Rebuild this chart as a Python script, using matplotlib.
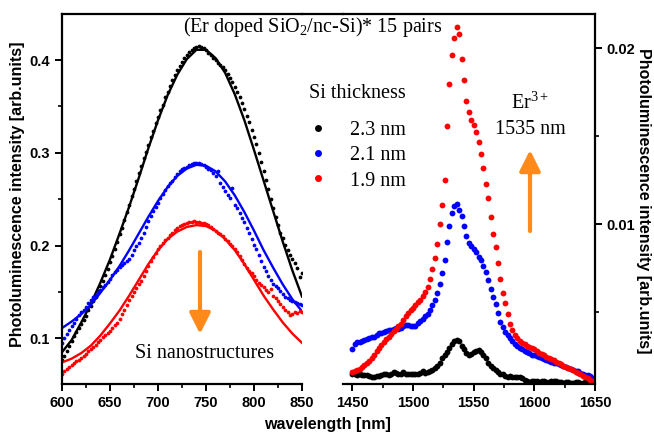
import numpy as np
import matplotlib
matplotlib.use("Agg")
import matplotlib.pyplot as plt
from matplotlib.lines import Line2D
from matplotlib.ticker import MultipleLocator, FuncFormatter
from matplotlib.patches import FancyArrowPatch

# ---------------- data: visible range (Si nanostructures), 2.5 nm steps ----------------
wl_vis = [600 + 2.5 * i for i in range(101)]
vis_23 = [0.077, 0.081, 0.086, 0.092, 0.097, 0.102, 0.107, 0.111, 0.115, 0.120, 0.124, 0.130,
          0.135, 0.140, 0.145, 0.151, 0.156, 0.162, 0.168, 0.175, 0.182, 0.189, 0.196, 0.204,
          0.212, 0.219, 0.227, 0.236, 0.244, 0.253, 0.261, 0.270, 0.278, 0.286, 0.294, 0.301,
          0.308, 0.317, 0.324, 0.332, 0.339, 0.346, 0.352, 0.360, 0.366, 0.372, 0.378, 0.384,
          0.389, 0.394, 0.398, 0.402, 0.405, 0.409, 0.411, 0.413, 0.414, 0.415, 0.414, 0.413,
          0.411, 0.408, 0.405, 0.402, 0.400, 0.397, 0.395, 0.392, 0.389, 0.385, 0.381, 0.376,
          0.371, 0.366, 0.360, 0.354, 0.347, 0.340, 0.333, 0.325, 0.317, 0.309, 0.300, 0.290,
          0.280, 0.271, 0.261, 0.250, 0.240, 0.231, 0.222, 0.214, 0.208, 0.201, 0.195, 0.190,
          0.185, 0.181, 0.176, 0.166, 0.170]
vis_21 = [0.095, 0.100, 0.105, 0.109, 0.113, 0.117, 0.121, 0.125, 0.128, 0.131, 0.134, 0.138,
          0.141, 0.144, 0.147, 0.150, 0.152, 0.155, 0.157, 0.161, 0.164, 0.168, 0.171, 0.174,
          0.177, 0.179, 0.181, 0.183, 0.186, 0.190, 0.195, 0.199, 0.203, 0.208, 0.213, 0.220,
          0.226, 0.232, 0.237, 0.242, 0.246, 0.251, 0.256, 0.260, 0.264, 0.267, 0.270, 0.274,
          0.277, 0.280, 0.282, 0.284, 0.285, 0.287, 0.288, 0.289, 0.289, 0.289, 0.288, 0.287,
          0.285, 0.283, 0.281, 0.278, 0.275, 0.280, 0.267, 0.263, 0.259, 0.255, 0.251, 0.262,
          0.244, 0.240, 0.235, 0.230, 0.225, 0.219, 0.213, 0.207, 0.201, 0.196, 0.190, 0.183,
          0.177, 0.172, 0.167, 0.163, 0.159, 0.156, 0.154, 0.151, 0.148, 0.145, 0.143, 0.141,
          0.140, 0.139, 0.138, 0.137, 0.136]
vis_19 = [0.062, 0.065, 0.067, 0.069, 0.071, 0.073, 0.075, 0.077, 0.079, 0.081, 0.083, 0.086,
          0.088, 0.091, 0.093, 0.096, 0.098, 0.101, 0.103, 0.106, 0.108, 0.111, 0.114, 0.117,
          0.121, 0.126, 0.131, 0.136, 0.141, 0.146, 0.150, 0.154, 0.158, 0.162, 0.167, 0.173,
          0.178, 0.183, 0.188, 0.192, 0.196, 0.200, 0.203, 0.206, 0.208, 0.211, 0.214, 0.217,
          0.219, 0.221, 0.222, 0.223, 0.224, 0.225, 0.225, 0.226, 0.225, 0.225, 0.224, 0.224,
          0.223, 0.222, 0.220, 0.218, 0.216, 0.214, 0.212, 0.210, 0.207, 0.205, 0.202, 0.199,
          0.196, 0.193, 0.189, 0.184, 0.180, 0.176, 0.173, 0.170, 0.167, 0.163, 0.160, 0.157,
          0.155, 0.152, 0.150, 0.153, 0.146, 0.143, 0.140, 0.137, 0.134, 0.130, 0.128, 0.125,
          0.126, 0.128, 0.127, 0.129, 0.128]

# fitted curves
wl_fit = [600, 610, 620, 630, 640, 650, 660, 670, 680, 690, 700, 710, 720, 730, 740, 750,
          760, 770, 780, 790, 800, 810, 820, 830, 840, 850]
fit_23 = [0.085, 0.098, 0.117, 0.137, 0.160, 0.185, 0.213, 0.242, 0.273, 0.305, 0.335, 0.362,
          0.384, 0.401, 0.411, 0.411, 0.402, 0.386, 0.363, 0.335, 0.303, 0.270, 0.237, 0.204,
          0.173, 0.145]
fit_21 = [0.111, 0.118, 0.126, 0.136, 0.149, 0.163, 0.178, 0.195, 0.213, 0.231, 0.248, 0.263,
          0.275, 0.283, 0.287, 0.286, 0.280, 0.269, 0.254, 0.236, 0.216, 0.195, 0.176, 0.158,
          0.142, 0.129]
fit_19 = [0.074, 0.078, 0.084, 0.092, 0.103, 0.116, 0.130, 0.146, 0.163, 0.180, 0.195, 0.207,
          0.215, 0.220, 0.222, 0.221, 0.216, 0.207, 0.195, 0.180, 0.163, 0.146, 0.131, 0.117,
          0.105, 0.095]

# ---------------- data: Er3+ range, 2 nm steps ----------------
wl_ir = list(range(1450, 1651, 2))
ir_23 = [0.00150, 0.00148, 0.00145, 0.00148, 0.00145, 0.00143, 0.00142, 0.00140, 0.00135, 0.00132,
         0.00138, 0.00140, 0.00145, 0.00152, 0.00148, 0.00142, 0.00150, 0.00160, 0.00155, 0.00148,
         0.00152, 0.00160, 0.00150, 0.00148, 0.00150, 0.00152, 0.00150, 0.00152, 0.00158, 0.00165,
         0.00158, 0.00160, 0.00168, 0.00175, 0.00182, 0.00195, 0.00215, 0.00238, 0.00258, 0.00275,
         0.00298, 0.00322, 0.00338, 0.00343, 0.00335, 0.00310, 0.00290, 0.00270, 0.00258, 0.00262,
         0.00272, 0.00280, 0.00285, 0.00275, 0.00258, 0.00238, 0.00215, 0.00198, 0.00185, 0.00172,
         0.00160, 0.00152, 0.00148, 0.00140, 0.00135, 0.00138, 0.00132, 0.00130, 0.00135, 0.00132,
         0.00125, 0.00115, 0.00108, 0.00105, 0.00108, 0.00110, 0.00108, 0.00105, 0.00108, 0.00110,
         0.00105, 0.00102, 0.00108, 0.00112, 0.00108, 0.00105, 0.00102, 0.00100, 0.00102, 0.00105,
         0.00100, 0.00098, 0.00102, 0.00105, 0.00100, 0.00098, 0.00102, 0.00100, 0.00098, 0.00097,
         0.00096]
ir_21 = [0.00290, 0.00320, 0.00333, 0.00330, 0.00340, 0.00345, 0.00348, 0.00352, 0.00358, 0.00362,
         0.00372, 0.00380, 0.00385, 0.00390, 0.00395, 0.00400, 0.00398, 0.00405, 0.00412, 0.00408,
         0.00412, 0.00420, 0.00428, 0.00430, 0.00425, 0.00422, 0.00425, 0.00438, 0.00450, 0.00462,
         0.00478, 0.00490, 0.00515, 0.00540, 0.00570, 0.00610, 0.00660, 0.00725, 0.00800, 0.00900,
         0.00990, 0.01065, 0.01105, 0.01115, 0.01080, 0.01045, 0.00990, 0.00935, 0.00895, 0.00875,
         0.00862, 0.00845, 0.00815, 0.00795, 0.00765, 0.00728, 0.00685, 0.00635, 0.00590, 0.00545,
         0.00495, 0.00448, 0.00415, 0.00390, 0.00372, 0.00355, 0.00338, 0.00322, 0.00310, 0.00300,
         0.00290, 0.00282, 0.00275, 0.00268, 0.00260, 0.00255, 0.00250, 0.00245, 0.00240, 0.00235,
         0.00230, 0.00225, 0.00220, 0.00215, 0.00210, 0.00205, 0.00200, 0.00196, 0.00190, 0.00183,
         0.00178, 0.00172, 0.00168, 0.00165, 0.00158, 0.00150, 0.00145, 0.00142, 0.00138, 0.00128,
         0.00118]
ir_19 = [0.00160, 0.00165, 0.00172, 0.00180, 0.00192, 0.00203, 0.00215, 0.00226, 0.00240, 0.00260,
         0.00280, 0.00300, 0.00315, 0.00332, 0.00350, 0.00362, 0.00378, 0.00392, 0.00405, 0.00420,
         0.00435, 0.00455, 0.00478, 0.00495, 0.00512, 0.00525, 0.00543, 0.00560, 0.00572, 0.00592,
         0.00615, 0.00645, 0.00690, 0.00745, 0.00810, 0.00890, 0.01000, 0.01110, 0.01250, 0.01560,
         0.01800, 0.01960, 0.02060, 0.02120, 0.02080, 0.01940, 0.01820, 0.01700, 0.01640, 0.01595,
         0.01565, 0.01525, 0.01470, 0.01400, 0.01318, 0.01228, 0.01150, 0.01040, 0.00945, 0.00870,
         0.00780, 0.00690, 0.00610, 0.00555, 0.00490, 0.00435, 0.00400, 0.00372, 0.00355, 0.00340,
         0.00328, 0.00318, 0.00310, 0.00303, 0.00297, 0.00290, 0.00280, 0.00270, 0.00262, 0.00255,
         0.00245, 0.00240, 0.00233, 0.00228, 0.00220, 0.00212, 0.00205, 0.00198, 0.00192, 0.00185,
         0.00177, 0.00170, 0.00163, 0.00157, 0.00150, 0.00140, 0.00132, 0.00125, 0.00117, 0.00108,
         0.00100]

labels = ["2.3 nm", "2.1 nm", "1.9 nm"]
colors = ["#000000", "#0000ff", "#ff0000"]
orange = "#ff8a1a"

# ---------------- figure ----------------
plt.rcParams['font.family'] = ['Liberation Sans', 'DejaVu Sans']
plt.rcParams['mathtext.fontset'] = 'custom'
plt.rcParams['mathtext.rm'] = 'Liberation Serif'
plt.rcParams['mathtext.it'] = 'Liberation Serif:italic'
plt.rcParams['mathtext.bf'] = 'Liberation Serif:bold'
serif = ['Liberation Serif', 'DejaVu Serif']
SFS = 14.5

W, H = 654, 438
fig = plt.figure(figsize=(W / 100, H / 100), dpi=100)


def fx(px):
    return px / W


def fy(py):
    return 1 - py / H


ax1 = fig.add_axes([fx(62), fy(384), 240 / W, 370 / H])
ax2 = fig.add_axes([fx(343), fy(384), 252 / W, 370 / H])

for ys, yf, c in zip([vis_23, vis_21, vis_19], [fit_23, fit_21, fit_19], colors):
    ax1.plot(wl_vis, ys, 'o', ms=2.7, color=c, mec='none')
    ax1.plot(wl_fit, yf, '-', lw=1.7, color=c)

for ys, c in zip([ir_23, ir_21, ir_19], colors):
    ax2.plot(wl_ir, ys, 'o', ms=4.2, color=c, mec='none')

ax1.set_xlim(600, 850)
ax1.set_ylim(0.0507, 0.4496)
ax2.set_xlim(1442.3, 1650)
ax2.set_ylim(0.00093, 0.02195)

ax1.xaxis.set_major_locator(MultipleLocator(50))
ax1.xaxis.set_minor_locator(MultipleLocator(25))
ax1.yaxis.set_major_locator(MultipleLocator(0.1))
ax1.yaxis.set_minor_locator(MultipleLocator(0.05))
ax2.xaxis.set_major_locator(MultipleLocator(50))
ax2.xaxis.set_minor_locator(MultipleLocator(25))
ax2.yaxis.set_major_locator(MultipleLocator(0.01))
ax2.yaxis.set_minor_locator(MultipleLocator(0.005))
ax1.yaxis.set_major_formatter(FuncFormatter(lambda v, p: f"{v:.1f}"))
ax2.yaxis.set_major_formatter(FuncFormatter(lambda v, p: f"{v:.2f}"))

ax1.spines['right'].set_visible(False)
ax2.spines['left'].set_visible(False)
ax2.yaxis.tick_right()

for ax in (ax1, ax2):
    for s in ax.spines.values():
        s.set_linewidth(1.6)
    ax.tick_params(which='major', direction='out', length=5, width=1.4, labelsize=10.5)
    ax.tick_params(which='minor', direction='out', length=3, width=1.2)
    for lab in ax.get_xticklabels() + ax.get_yticklabels():
        lab.set_fontweight('bold')
ax2.tick_params(axis='y', which='both', left=False, right=True)

# continuous top frame line between panels
fig.add_artist(Line2D([fx(302), fx(343)], [fy(14), fy(14)], color='black', lw=1.6))

# axis labels
fig.text(fx(18), fy(194), "Photoluminescence intensity [arb.units]", rotation=90,
         ha='center', va='center', fontsize=11.5, fontweight='bold')
fig.text(fx(643), fy(201), "Photoluminescence intensity [arb.units]", rotation=-90,
         ha='center', va='center', fontsize=11.5, fontweight='bold')
fig.text(fx(327), fy(425), "wavelength [nm]", ha='center', va='center',
         fontsize=11.5, fontweight='bold')

# annotations
fig.text(fx(313), fy(27), r"(Er doped SiO$_2$/nc-Si)* 15 pairs", ha='center', va='center',
         fontsize=SFS, family=serif)
fig.text(fx(530), fy(103), r"Er$^{3+}$", ha='center', va='center', fontsize=SFS, family=serif)
fig.text(fx(530), fy(130), "1535 nm", ha='center', va='center', fontsize=SFS, family=serif)
fig.text(fx(205), fy(353), "Si nanostructures", ha='center', va='center', fontsize=SFS,
         family=serif)

arrow_kw = dict(arrowstyle='-|>,head_length=0.9,head_width=0.45', color=orange, lw=3,
                shrinkA=0, shrinkB=0, mutation_scale=14, transform=fig.transFigure)
fig.add_artist(FancyArrowPatch((fx(200), fy(252)), (fx(200), fy(334)), **arrow_kw))
fig.add_artist(FancyArrowPatch((fx(530), fy(231)), (fx(530), fy(150)), **arrow_kw))

# legend
handles = [Line2D([], [], ls='none', marker='o', ms=5, color=c, mec='none') for c in colors]
leg = fig.legend(handles, labels, title="Si thickness", loc='upper left',
                 bbox_to_anchor=(fx(294), fy(70)), frameon=False,
                 prop={'family': serif, 'size': SFS}, handlelength=1.0,
                 handletextpad=1.1, labelspacing=0.3, borderpad=0.2)
leg.get_title().set_fontfamily(serif)
leg.get_title().set_fontsize(SFS)
leg._legend_box.sep = 13

fig.savefig("out.png", dpi=100)
